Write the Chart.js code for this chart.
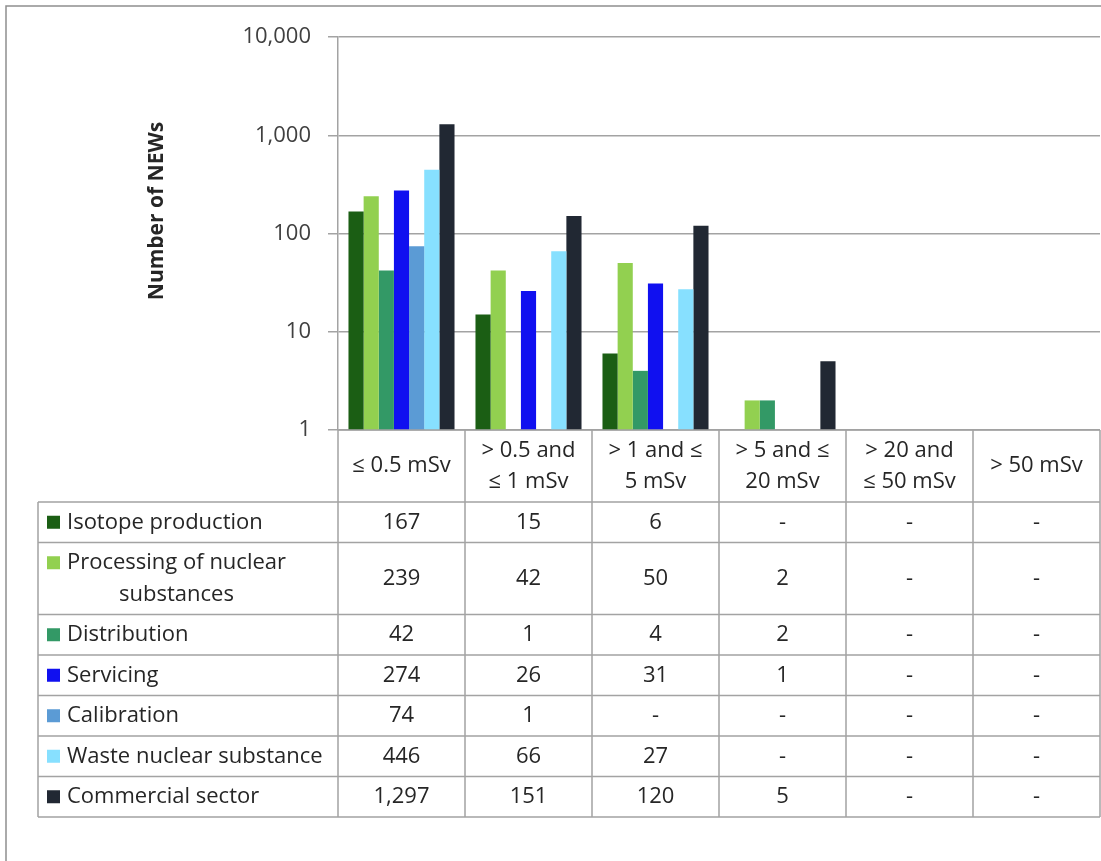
<!DOCTYPE html>
<html>
<head>
<meta charset="utf-8">
<script src="https://cdn.jsdelivr.net/npm/chart.js@4.4.1/dist/chart.umd.min.js"></script>
<style>
  html, body { margin: 0; padding: 0; background: #fff; }
  #wrap { width: 1101px; height: 861px; }
</style>
</head>
<body>
<div id="wrap"><canvas id="chart" width="1101" height="861"></canvas></div>
<script>
// dose bands shown as table columns
const doseBands = ['≤ 0.5 mSv', '> 0.5 and ≤ 1 mSv', '> 1 and ≤ 5 mSv', '> 5 and ≤ 20 mSv', '> 20 and ≤ 50 mSv', '> 50 mSv'];
const doseBandLines = [['≤ 0.5 mSv'], ['> 0.5 and', '≤ 1 mSv'], ['> 1 and ≤', '5 mSv'], ['> 5 and ≤', '20 mSv'], ['> 20 and', '≤ 50 mSv'], ['> 50 mSv']];

const sectors = ['Isotope production', 'Processing of nuclear substances', 'Distribution', 'Servicing', 'Calibration', 'Waste nuclear substance', 'Commercial sector'];

// NEWs per dose band (null = "-")
const isotopeProduction = [167, 15, 6, null, null, null];
const processing = [239, 42, 50, 2, null, null];
const distribution = [42, 1, 4, 2, null, null];
const servicing = [274, 26, 31, 1, null, null];
const calibration = [74, 1, null, null, null, null];
const wasteNuclear = [446, 66, 27, null, null, null];
const commercial = [1297, 151, 120, 5, null, null];

const yTicks = [1, 10, 100, 1000, 10000];

const seriesValues = [isotopeProduction, processing, distribution, servicing, calibration, wasteNuclear, commercial];
const sectorColors = ['#1b5e14', '#92d050', '#339966', '#1010f0', '#5b9bd5', '#87e0ff', '#212833'];

const FONT = '"Open Sans", "Noto Sans", sans-serif';
const TEXT = '#262626';
const LINE = '#a3a3a3';

function wrapText(ctx, text, maxW) {
  const words = text.split(' ');
  const lines = [];
  let cur = '';
  words.forEach(w => {
    const test = cur ? cur + ' ' + w : w;
    if (cur && ctx.measureText(test).width > maxW) {
      lines.push(cur);
      cur = w;
    } else {
      cur = test;
    }
  });
  if (cur) lines.push(cur);
  return lines;
}

// data table under the plot + outer frame + axis title
const tablePlugin = {
  id: 'dataTable',
  afterDraw(chart) {
    const { ctx, chartArea, scales: { x } } = chart;
    const nCols = doseBands.length;
    const catW = (x.right - x.left) / nCols;
    const tableLeft = 38;
    const textX = 67;
    const lineH = 31.5, rowPad = 9;

    ctx.save();
    ctx.font = '22px ' + FONT;
    const rows = sectors.map(s => wrapText(ctx, s, x.left - textX - 2));
    const headerH = rowPad + lineH * Math.max(...doseBandLines.map(l => l.length));
    const top = chartArea.bottom;
    const rowTops = [];
    let y = top + headerH;
    rows.forEach(lines => { rowTops.push(y); y += rowPad + lineH * lines.length; });
    const bottom = y;

    // grid of the table
    ctx.strokeStyle = LINE;
    ctx.lineWidth = 1.5;
    ctx.beginPath();
    ctx.moveTo(x.left, top); ctx.lineTo(x.right, top);
    rowTops.concat([bottom]).forEach(ry => { ctx.moveTo(tableLeft, ry); ctx.lineTo(x.right, ry); });
    for (let i = 0; i <= nCols; i++) {
      const cx = x.left + i * catW;
      ctx.moveTo(cx, top); ctx.lineTo(cx, bottom);
    }
    ctx.moveTo(tableLeft, rowTops[0]); ctx.lineTo(tableLeft, bottom);
    ctx.stroke();

    ctx.fillStyle = TEXT;
    ctx.textBaseline = 'middle';
    ctx.textAlign = 'center';

    // column headers
    doseBandLines.forEach((lines, i) => {
      const cx = x.getPixelForValue(i);
      const cy = top + headerH / 2;
      lines.forEach((t, k) => {
        ctx.fillText(t, cx, cy + (k - (lines.length - 1) / 2) * lineH);
      });
    });

    // rows: legend key, sector name, values
    rows.forEach((lines, r) => {
      const rTop = rowTops[r];
      const rH = rowPad + lineH * lines.length;
      const cy = rTop + rH / 2;
      const firstY = cy - (lines.length - 1) / 2 * lineH;

      ctx.fillStyle = sectorColors[r];
      ctx.fillRect(47, firstY - 6.5, 13, 13);

      ctx.fillStyle = TEXT;
      const blockW = Math.max(...lines.map(t => ctx.measureText(t).width));
      lines.forEach((t, k) => {
        ctx.fillText(t, textX + blockW / 2, firstY + k * lineH);
      });

      seriesValues[r].forEach((v, i) => {
        const txt = v == null ? '-' : v.toLocaleString('en-US');
        ctx.fillText(txt, x.getPixelForValue(i), cy);
      });
    });

    // axis title
    ctx.save();
    ctx.translate(157, 211);
    ctx.rotate(-Math.PI / 2);
    ctx.font = 'bold 21px ' + FONT;
    ctx.fillText('Number of NEWs', 0, 0);
    ctx.restore();

    // outer frame
    ctx.strokeStyle = '#8f8f8f';
    ctx.lineWidth = 1.5;
    ctx.beginPath();
    ctx.moveTo(6, 870); ctx.lineTo(6, 6); ctx.lineTo(1110, 6);
    ctx.stroke();
    ctx.restore();
  }
};

new Chart(document.getElementById('chart'), {
  type: 'bar',
  data: {
    labels: doseBands,
    datasets: sectors.map((name, i) => ({
      label: name,
      data: seriesValues[i],
      backgroundColor: sectorColors[i],
      borderWidth: 0
    }))
  },
  options: {
    responsive: false,
    animation: false,
    categoryPercentage: 0.835,
    barPercentage: 1,
    layout: { padding: { top: 37, right: 1, bottom: 431, left: 0 } },
    plugins: {
      legend: { display: false },
      tooltip: { enabled: false }
    },
    scales: {
      x: { display: false },
      y: {
        type: 'logarithmic',
        min: 1,
        max: 10000,
        afterBuildTicks: s => { s.ticks = yTicks.map(v => ({ value: v, major: true })); },
        afterFit: s => { s.width = 338; },
        ticks: {
          callback: v => Number(v).toLocaleString('en-US'),
          font: { family: FONT, size: 22 },
          color: '#404040',
          padding: 17
        },
        grid: { color: LINE, lineWidth: 1.5, tickLength: 10 },
        border: { color: LINE, width: 1.5 }
      }
    }
  },
  plugins: [tablePlugin]
});
</script>
</body>
</html>
